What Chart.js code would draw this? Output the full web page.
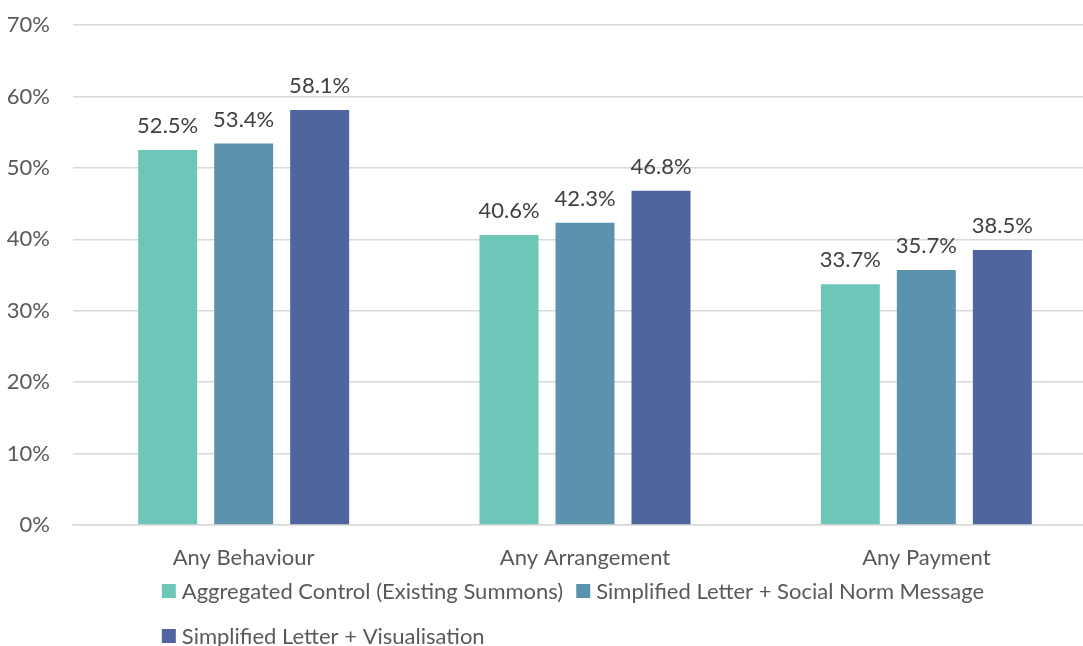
<!DOCTYPE html>
<html>
<head>
<meta charset="utf-8">
<script src="https://cdn.jsdelivr.net/npm/chart.js@4.4.1/dist/chart.umd.min.js"></script>
<style>
  html, body { margin: 0; padding: 0; background: #ffffff; overflow: hidden; }
  #wrap { width: 1083px; height: 646px; position: relative; overflow: hidden; }
  canvas { display: block; }
</style>
</head>
<body>
<div id="wrap"><canvas id="c" width="1100" height="646"></canvas></div>
<script>
const categories = ["Any Behaviour", "Any Arrangement", "Any Payment"];
const seriesNames = [
  "Aggregated Control (Existing Summons)",
  "Simplified Letter + Social Norm Message",
  "Simplified Letter + Visualisation"
];
const controlValues = [52.5, 40.6, 33.7];
const socialNormValues = [53.4, 42.3, 35.7];
const visualisationValues = [58.1, 46.8, 38.5];
const seriesColors = ["#6EC6B9", "#5B93AE", "#4F659E"];
const yTickMax = 70;
const yTickStep = 10;

const FONT = "Lato, 'Open Sans', sans-serif";
const TEXT_COLOR = "#595959";
const LABEL_COLOR = "#404040";

const valueLabels = {
  id: "valueLabels",
  afterDatasetsDraw(chart) {
    const ctx = chart.ctx;
    ctx.save();
    ctx.font = "22px " + FONT;
    ctx.fillStyle = LABEL_COLOR;
    ctx.textAlign = "center";
    ctx.textBaseline = "alphabetic";
    chart.data.datasets.forEach((ds, i) => {
      const meta = chart.getDatasetMeta(i);
      meta.data.forEach((bar, j) => {
        ctx.fillText(ds.data[j].toFixed(1) + "%", bar.x, bar.y - 17);
      });
    });
    ctx.restore();
  }
};

const customLegend = {
  id: "customLegend",
  afterDraw(chart) {
    const ctx = chart.ctx;
    const area = chart.chartArea;
    ctx.save();
    ctx.font = "22px " + FONT;
    ctx.textBaseline = "middle";
    ctx.textAlign = "left";
    const box = 14, gapText = 6, gapItem = 13;
    const ds = chart.data.datasets;
    const rows = [[0, 1], [2]];
    const itemW = i => box + gapText + ctx.measureText(ds[i].label).width;
    const row1W = itemW(0) + gapItem + itemW(1);
    const startX = (area.left + area.right) / 2 - row1W / 2 - 12;
    const rowY = [591, 636];
    rows.forEach((row, r) => {
      let x = startX;
      row.forEach(i => {
        ctx.fillStyle = ds[i].backgroundColor;
        ctx.fillRect(x, rowY[r] - box / 2, box, box);
        ctx.fillStyle = TEXT_COLOR;
        ctx.fillText(ds[i].label, x + box + gapText, rowY[r] + 1);
        x += itemW(i) + gapItem;
      });
    });
    ctx.restore();
  }
};

new Chart(document.getElementById("c"), {
  type: "bar",
  data: {
    labels: categories,
    datasets: [
      { label: seriesNames[0], data: controlValues, backgroundColor: seriesColors[0] },
      { label: seriesNames[1], data: socialNormValues, backgroundColor: seriesColors[1] },
      { label: seriesNames[2], data: visualisationValues, backgroundColor: seriesColors[2] }
    ]
  },
  options: {
    responsive: false,
    animation: false,
    devicePixelRatio: 1,
    categoryPercentage: 0.668,
    barPercentage: 0.776,
    layout: { padding: { top: 25, right: 3, left: 0, bottom: 71 } },
    plugins: {
      legend: { display: false },
      tooltip: { enabled: false }
    },
    scales: {
      x: {
        grid: { display: false, drawTicks: false },
        border: { display: true, color: "#D9D9D9", width: 1.5 },
        ticks: {
          color: TEXT_COLOR,
          font: { family: FONT, size: 22 },
          padding: 20
        },
        afterFit(scale) { scale.height = 50; scale.paddingLeft = 0; scale.paddingRight = 0; }
      },
      y: {
        min: 0,
        max: yTickMax,
        grid: { color: "#D9D9D9", lineWidth: 1.5, drawTicks: false },
        border: { display: false },
        ticks: {
          stepSize: yTickStep,
          color: TEXT_COLOR,
          font: { family: FONT, size: 22 },
          padding: 23,
          callback: v => v + "%"
        },
        afterFit(scale) { scale.width = 73; scale.paddingTop = 0; scale.paddingBottom = 0; }
      }
    }
  },
  plugins: [valueLabels, customLegend]
});
</script>
</body>
</html>
